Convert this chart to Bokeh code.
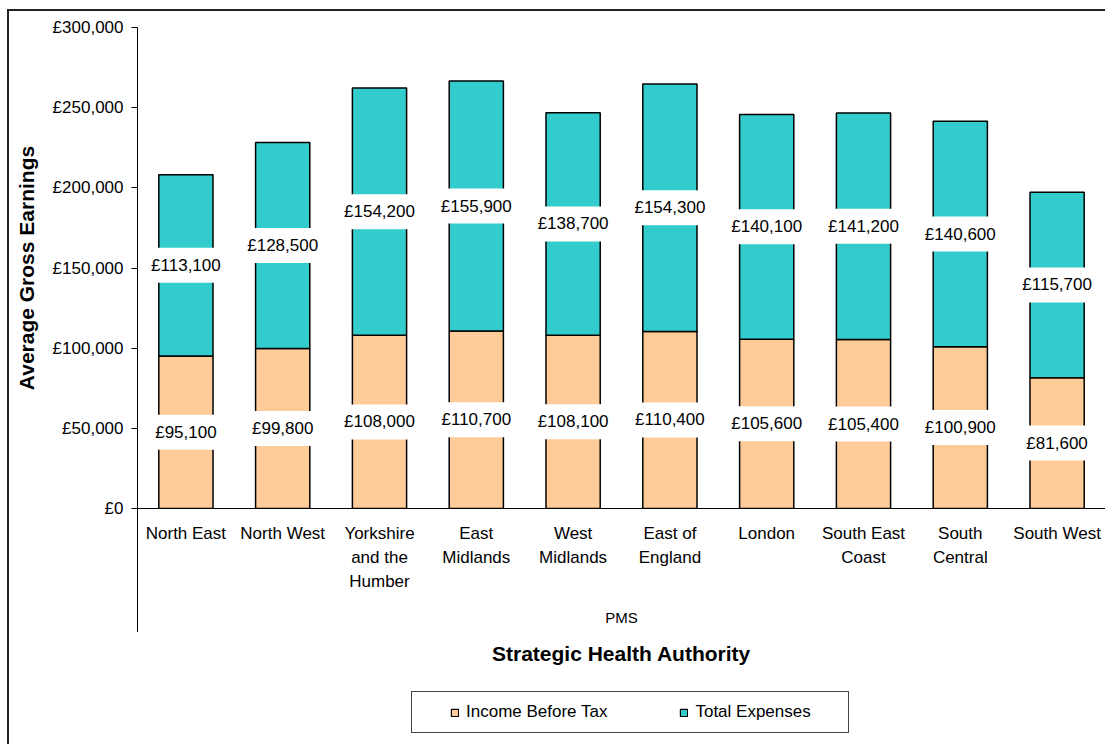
from bokeh.plotting import figure
from bokeh.layouts import column
from bokeh.models import (FactorRange, Range1d, FixedTicker, ColumnDataSource,
                          Legend, LegendItem, Title)
from bokeh.core.properties import value
from bokeh.embed import file_html
from bokeh.resources import INLINE

# ---- data ----
regions = ["North East", "North West", "Yorkshire\nand the\nHumber", "East\nMidlands",
           "West\nMidlands", "East of\nEngland", "London", "South East\nCoast",
           "South\nCentral", "South West"]
income = [95100, 99800, 108000, 110700, 108100, 110400, 105600, 105400, 100900, 81600]
expenses = [113100, 128500, 154200, 155900, 138700, 154300, 140100, 141200, 140600, 115700]
y_ticks = [0, 50000, 100000, 150000, 200000, 250000, 300000]
series = ["Income Before Tax", "Total Expenses"]
colors = ["#FFCC99", "#33CCCC"]
group_label = "PMS"
x_title = "Strategic Health Authority"
y_title = "Average Gross Earnings"

FONT = "Liberation Sans"

total = [a + b for a, b in zip(income, expenses)]
src = ColumnDataSource(dict(
    x=regions,
    income=income,
    total=total,
    inc_mid=[a / 2 for a in income],
    exp_mid=[a + b / 2 for a, b in zip(income, expenses)],
    inc_lbl=["£{:,}".format(v) for v in income],
    exp_lbl=["£{:,}".format(v) for v in expenses],
))

# ---------------- main chart ----------------
p = figure(width=1096, height=669, x_range=FactorRange(*regions, range_padding=0),
           y_range=Range1d(0, 300000), output_backend="svg", toolbar_location=None,
           min_border_left=128, min_border_top=16, min_border_right=0, min_border_bottom=172)

# category-group separator line below the axis (host CSS, outside the frame)
p.styles = {
    "background-color": "white",
    "background-image": "linear-gradient(#000000, #000000)",
    "background-repeat": "no-repeat",
    "background-size": "1px 124px",
    "background-position": "128px 497px",
}
p.border_fill_color = None
p.outline_line_color = None
p.xgrid.visible = False
p.ygrid.visible = False

bar_style = dict(width=0.56, line_color="black", line_width=1.5)
r_inc = p.vbar(x="x", top="income", bottom=0, source=src, fill_color=colors[0], **bar_style)
r_exp = p.vbar(x="x", top="total", bottom="income", source=src, fill_color=colors[1], **bar_style)

for ycol, tcol in (("inc_mid", "inc_lbl"), ("exp_mid", "exp_lbl")):
    p.text(x="x", y=ycol, text=tcol, source=src, text_align="center",
           text_baseline="middle", text_font=value(FONT), text_font_size="17px",
           text_color="black", background_fill_color="white", padding=8)

# y axis
yax = p.yaxis[0]
yax.ticker = FixedTicker(ticks=y_ticks)
yax.major_label_overrides = {t: "£{:,}".format(t) for t in y_ticks}
yax.minor_tick_line_color = None
yax.major_tick_in = 0
yax.major_tick_out = 6
yax.major_label_standoff = 8
yax.major_label_text_font = FONT
yax.major_label_text_font_size = "17px"
yax.major_label_text_color = "black"
yax.axis_line_color = "black"
yax.major_tick_line_color = "black"
yax.axis_label = y_title
yax.axis_label_text_font = FONT
yax.axis_label_text_font_size = "21px"
yax.axis_label_text_font_style = "bold"
yax.axis_label_text_color = "black"
yax.axis_label_standoff = 12

# x axis
xax = p.xaxis[0]
xax.major_tick_line_color = None
xax.major_tick_in = 0
xax.major_tick_out = 0
xax.major_label_standoff = 15
xax.major_label_text_font = FONT
xax.major_label_text_font_size = "17px"
xax.major_label_text_color = "black"
xax.major_label_text_line_height = 1.27
xax.axis_line_color = "black"
xax.axis_label = group_label
xax.axis_label_text_font = FONT
xax.axis_label_text_font_size = "15px"
xax.axis_label_text_font_style = "normal"
xax.axis_label_text_color = "black"
xax.axis_label_standoff = 15

p.add_layout(Title(text=x_title, align="center", text_font=FONT, text_font_size="21px",
                   text_font_style="bold", text_color="black", standoff=23), "below")

# ---------------- legend strip ----------------
q = figure(width=1096, height=64, x_range=p.x_range, y_range=Range1d(0, 1),
           output_backend="svg", toolbar_location=None,
           min_border_left=0, min_border_right=0, min_border_top=0, min_border_bottom=0)
q.axis.visible = False
q.grid.visible = False
q.outline_line_color = None
q.border_fill_color = None
q.background_fill_color = None
q.styles = {
    "background-color": "white",
    "background-image": ", ".join(["linear-gradient(#444444, #444444)"] * 4),
    "background-repeat": "no-repeat",
    "background-size": "438px 1px, 438px 1px, 1px 42px, 1px 42px",
    "background-position": "402px 11px, 402px 52px, 402px 11px, 839px 11px",
}
key_style = dict(width=0.56, line_color="black", line_width=1.2, visible=False)
l_inc = q.vbar(x="x", top="income", bottom=0, source=src, fill_color=colors[0], **key_style)
l_exp = q.vbar(x="x", top="total", bottom="income", source=src, fill_color=colors[1], **key_style)
legend = Legend(items=[LegendItem(label=series[0], renderers=[l_inc]),
                       LegendItem(label=series[1], renderers=[l_exp])],
                orientation="horizontal", location=(313, 22),
                border_line_color=None, background_fill_alpha=0,
                label_text_font=FONT, label_text_font_size="17px",
                label_text_color="black",
                glyph_width=9, glyph_height=9, padding=0, spacing=72,
                label_standoff=7, margin=0)
q.add_layout(legend)

layout = column(p, q, spacing=0)
layout.styles = {"margin-left": "7px", "margin-top": "9px",
                 "border-left": "2px solid #222222", "border-top": "2px solid #222222"}

open("out.html", "w").write(file_html(layout, INLINE))
